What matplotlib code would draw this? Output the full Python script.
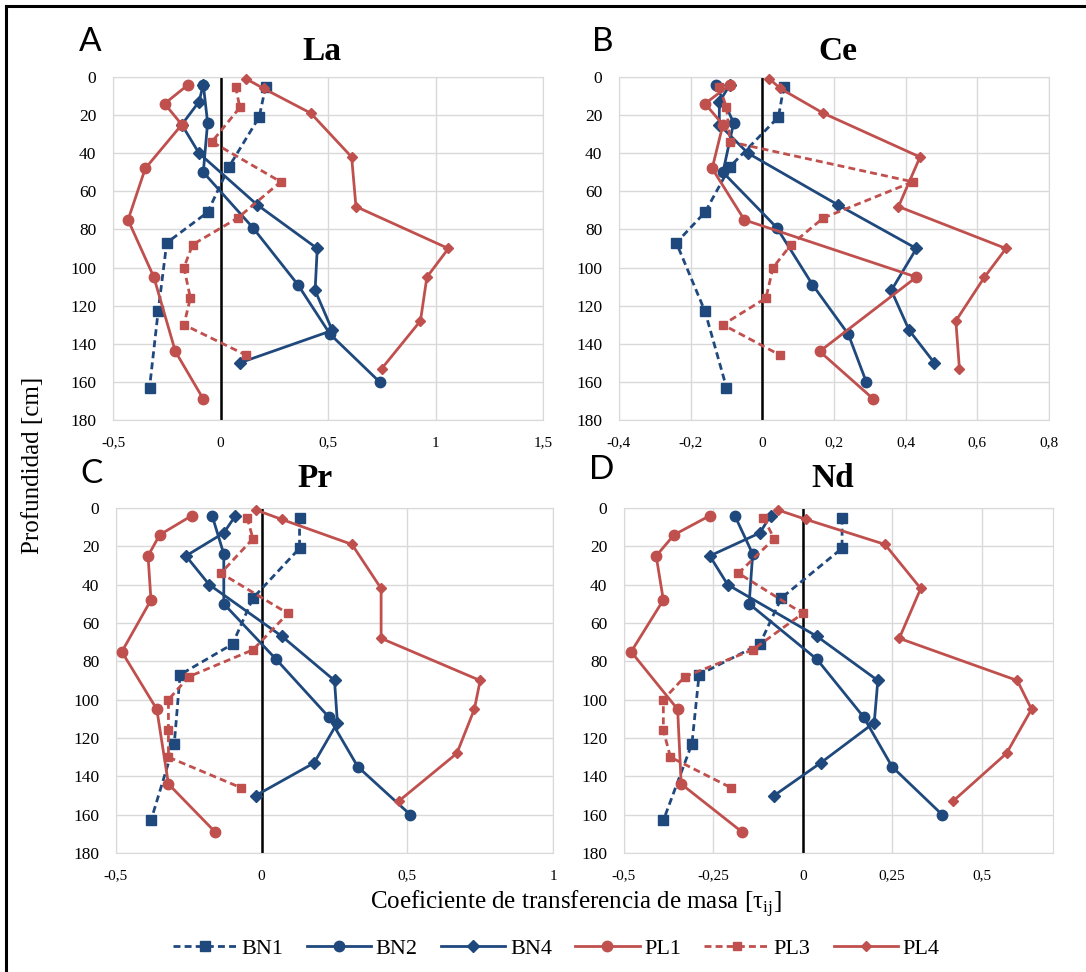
import matplotlib.pyplot as plt
from matplotlib.lines import Line2D
from matplotlib.ticker import FuncFormatter

# depths of each profile [cm]
dep_bn1 = [5, 21, 47, 71, 87, 123, 163]
dep_bn2 = [4, 24, 50, 79, 109, 135, 160]
dep_bn4 = [4, 13, 25, 40, 67, 90, 112, 133, 150]
dep_pl1 = [4, 14, 25, 48, 75, 105, 144, 169]
dep_pl3 = [5, 16, 34, 55, 74, 88, 100, 116, 130, 146]
dep_pl4 = [1, 6, 19, 42, 68, 90, 105, 128, 153]

# La
la_bn1 = [0.21, 0.18, 0.04, -0.06, -0.25, -0.29, -0.33]
la_bn2 = [-0.08, -0.06, -0.08, 0.15, 0.36, 0.51, 0.74]
la_bn4 = [-0.08, -0.10, -0.18, -0.10, 0.17, 0.45, 0.44, 0.52, 0.09]
la_pl1 = [-0.15, -0.26, -0.18, -0.35, -0.43, -0.31, -0.21, -0.08]
la_pl3 = [0.07, 0.09, -0.04, 0.28, 0.08, -0.13, -0.17, -0.14, -0.17, 0.12]
la_pl4 = [0.12, 0.20, 0.42, 0.61, 0.63, 1.06, 0.96, 0.93, 0.75]

# Ce
ce_bn1 = [0.06, 0.045, -0.09, -0.16, -0.24, -0.16, -0.10]
ce_bn2 = [-0.13, -0.08, -0.11, 0.04, 0.14, 0.24, 0.29]
ce_bn4 = [-0.09, -0.12, -0.12, -0.04, 0.21, 0.43, 0.36, 0.41, 0.48]
ce_pl1 = [-0.09, -0.16, -0.11, -0.14, -0.05, 0.43, 0.16, 0.31]
ce_pl3 = [-0.12, -0.10, -0.09, 0.42, 0.17, 0.08, 0.03, 0.01, -0.11, 0.05]
ce_pl4 = [0.02, 0.05, 0.17, 0.44, 0.38, 0.68, 0.62, 0.54, 0.55]

# Pr
pr_bn1 = [0.13, 0.13, -0.03, -0.10, -0.28, -0.30, -0.38]
pr_bn2 = [-0.17, -0.13, -0.13, 0.05, 0.23, 0.33, 0.51]
pr_bn4 = [-0.09, -0.13, -0.26, -0.18, 0.07, 0.25, 0.26, 0.18, -0.02]
pr_pl1 = [-0.24, -0.35, -0.39, -0.38, -0.48, -0.36, -0.32, -0.16]
pr_pl3 = [-0.05, -0.03, -0.14, 0.09, -0.03, -0.25, -0.32, -0.32, -0.32, -0.07]
pr_pl4 = [-0.02, 0.07, 0.31, 0.41, 0.41, 0.75, 0.73, 0.67, 0.47]

# Nd
nd_bn1 = [0.11, 0.11, -0.06, -0.12, -0.29, -0.31, -0.39]
nd_bn2 = [-0.19, -0.14, -0.15, 0.04, 0.17, 0.25, 0.39]
nd_bn4 = [-0.09, -0.12, -0.26, -0.21, 0.04, 0.21, 0.20, 0.05, -0.08]
nd_pl1 = [-0.26, -0.36, -0.41, -0.39, -0.48, -0.35, -0.34, -0.17]
nd_pl3 = [-0.11, -0.08, -0.18, 0.00, -0.14, -0.33, -0.39, -0.39, -0.37, -0.20]
nd_pl4 = [-0.07, 0.01, 0.23, 0.33, 0.27, 0.60, 0.64, 0.57, 0.42]

samples = ["BN1", "BN2", "BN4", "PL1", "PL3", "PL4"]
depths = [dep_bn1, dep_bn2, dep_bn4, dep_pl1, dep_pl3, dep_pl4]

la_ticks = [-0.5, 0, 0.5, 1, 1.5]
ce_ticks = [-0.4, -0.2, 0, 0.2, 0.4, 0.6, 0.8]
pr_ticks = [-0.5, 0, 0.5, 1]
nd_ticks = [-0.5, -0.25, 0, 0.25, 0.5]
depth_ticks = [0, 20, 40, 60, 80, 100, 120, 140, 160, 180]

blue = "#1F497D"
red = "#C0504D"
dash = (0, (2.5, 1.5))
styles = [
    dict(color=blue, ls=dash, marker="s", ms=7),
    dict(color=blue, ls="-", marker="o", ms=7.5),
    dict(color=blue, ls="-", marker="D", ms=6),
    dict(color=red, ls="-", marker="o", ms=7.5),
    dict(color=red, ls=dash, marker="s", ms=5.5),
    dict(color=red, ls="-", marker="D", ms=5.5),
]

plt.rcParams["font.family"] = "Liberation Serif"
plt.rcParams["mathtext.fontset"] = "custom"
plt.rcParams["mathtext.rm"] = "Liberation Serif"

W, H = 1086, 972
fig = plt.figure(figsize=(W / 100, H / 100), dpi=100)


def comma(v, pos):
    return f"{v:g}".replace(".", ",")


def panel(left, top, right, bottom, letter, lpos, title, tpos, xlim, xticks, values):
    ax = fig.add_axes([left / W, 1 - bottom / H, (right - left) / W, (bottom - top) / H])
    ax.axvline(0, color="black", lw=1.8, zorder=1.5)
    for dep, val, st in zip(depths, values, styles):
        ax.plot(val, dep, lw=2, clip_on=False, zorder=3, **st)
    ax.set_xlim(xlim)
    ax.set_ylim(180, 0)
    ax.set_xticks(xticks)
    ax.set_yticks(depth_ticks)
    ax.xaxis.set_major_formatter(FuncFormatter(comma))
    ax.grid(True, color="#D9D9D9", lw=1)
    ax.set_axisbelow(True)
    for s in ax.spines.values():
        s.set_color("#D9D9D9")
    ax.tick_params(axis="x", length=0, pad=12, labelsize=11)
    ax.tick_params(axis="y", length=0, pad=12, labelsize=12.5)
    fig.text(lpos[0] / W, 1 - lpos[1] / H, letter, family="Lato", fontsize=24,
             ha="center", va="center")
    fig.text(tpos[0] / W, 1 - tpos[1] / H, title, fontsize=24, fontweight="bold",
             ha="center", va="center")
    return ax


ax_la = panel(113, 77, 543, 420, "A", (90, 42), "La", (322, 52), (-0.5, 1.5), la_ticks,
              [la_bn1, la_bn2, la_bn4, la_pl1, la_pl3, la_pl4])
panel(619, 77, 1049, 420, "B", (603, 42), "Ce", (838, 52), (-0.4, 0.8), ce_ticks,
      [ce_bn1, ce_bn2, ce_bn4, ce_pl1, ce_pl3, ce_pl4])
panel(116, 508, 553, 853, "C", (92, 474), "Pr", (315, 478), (-0.5, 1.0), pr_ticks,
      [pr_bn1, pr_bn2, pr_bn4, pr_pl1, pr_pl3, pr_pl4])
panel(624, 508, 1053, 853, "D", (602, 470), "Nd", (833, 478), (-0.5, 0.7), nd_ticks,
      [nd_bn1, nd_bn2, nd_bn4, nd_pl1, nd_pl3, nd_pl4])

fig.text(33 / W, 1 - 465 / H, "Profundidad [cm]", rotation=90, fontsize=18,
         ha="center", va="center")
fig.text(576 / W, 1 - 904 / H, r"Coeficiente de transferencia de masa [τ$_{\rm ij}$]",
         fontsize=18, ha="center", va="center")

fig.legend(ax_la.lines[1:], samples, loc="center", bbox_to_anchor=(556 / W, 1 - 949 / H),
           ncol=6, frameon=False, fontsize=16, handlelength=2.9, handletextpad=0.2,
           columnspacing=1.05)

# frame lines at the top and left of the figure
fig.add_artist(Line2D([6 / W, 1], [1 - 6 / H, 1 - 6 / H], color="black", lw=2.2,
                      transform=fig.transFigure))
fig.add_artist(Line2D([6 / W, 6 / W], [0, 1 - 6 / H], color="black", lw=2.2,
                      transform=fig.transFigure))

fig.savefig("out.png", dpi=100)
